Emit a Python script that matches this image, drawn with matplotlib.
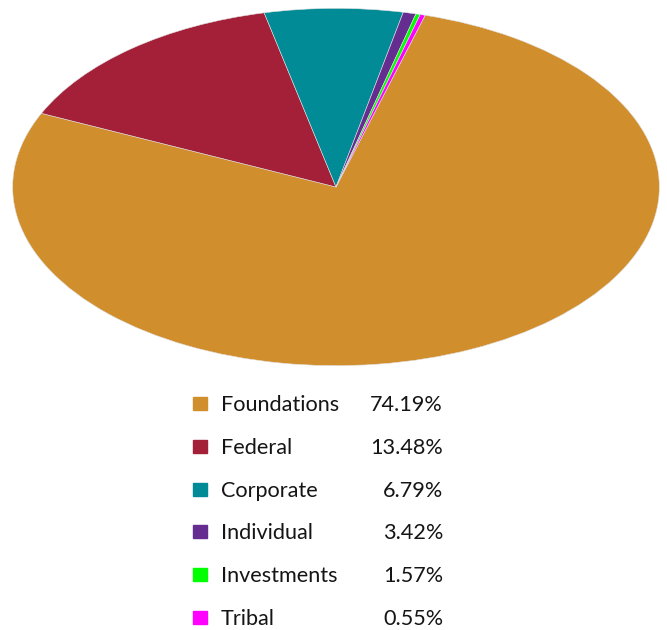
import matplotlib
matplotlib.use("Agg")
from matplotlib import pyplot as plt

categories = ["Foundations", "Federal", "Corporate", "Individual", "Investments", "Tribal"]
percent_labels = ["74.19%", "13.48%", "6.79%", "3.42%", "1.57%", "0.55%"]
# slice sizes as drawn in the picture (they differ from the legend numbers)
slice_values = [77.32, 14.67, 6.90, 0.64, 0.22, 0.25]
colors = ["#D08E2C", "#A32038", "#008B96", "#662D91", "#00FF00", "#FF00FF"]

plt.rcParams["font.family"] = ["Lato", "DejaVu Sans"]

W, H = 667, 630
fig = plt.figure(figsize=(W / 100, H / 100), dpi=100)

# elliptical pie: axes box is wide and flat
ax = fig.add_axes([12 / W, (H - 366) / H, 648 / W, 358 / H])
ax.pie(slice_values, colors=colors, startangle=74.0, counterclock=False,
       radius=1, wedgeprops=dict(edgecolor="#e0e0e0", linewidth=0.4))
ax.set_aspect("auto")
ax.set_xlim(-1.002, 1.002)
ax.set_ylim(-1.002, 1.002)
ax.axis("off")

# legend drawn in pixel coordinates
leg = fig.add_axes([0, 0, 1, 1])
leg.set_xlim(0, W)
leg.set_ylim(H, 0)
leg.axis("off")
baselines = [411, 454, 497, 539, 582, 625]
for name, pct, col, y in zip(categories, percent_labels, colors, baselines):
    leg.add_patch(plt.Rectangle((193, y - 14), 14, 13, color=col))
    leg.text(221, y, name, fontsize=15.6, va="baseline", ha="left", color="#151515")
    leg.text(443, y, pct, fontsize=15.6, va="baseline", ha="right", color="#151515")

fig.savefig("out.png", dpi=100)
